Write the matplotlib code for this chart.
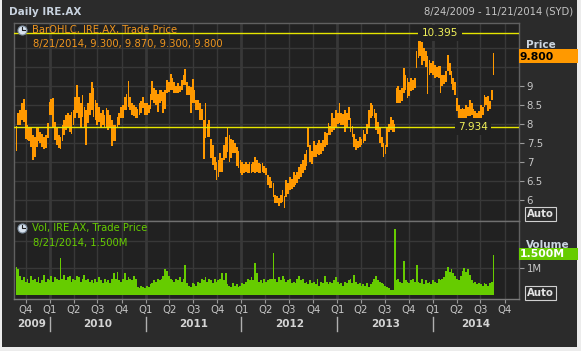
import matplotlib
matplotlib.use('Agg')
import matplotlib.pyplot as plt
import matplotlib.dates as mdates
import matplotlib.transforms as mtransforms
from matplotlib.lines import Line2D
from matplotlib.patches import Rectangle
import numpy as np
import pandas as pd


# weekly bars (week starting FIRST_WEEK, step 7 days)
FIRST_WEEK = '2009-08-24'

WEEK_HIGH = [
    7.95, 8.28, 8.37, 8.54, 8.65, 8.37, 7.97, 7.93, 7.93, 7.71,
    7.67, 7.89, 7.93, 7.80, 7.75, 7.67, 7.71, 8.02, 8.59, 8.65,
    8.68, 8.06, 7.93, 7.71, 7.67, 7.97, 8.10, 8.24, 8.28, 8.24,
    8.32, 8.37, 8.72, 9.02, 8.72, 8.54, 8.76, 8.46, 8.37, 8.54,
    8.81, 9.10, 8.94, 8.63, 8.54, 8.46, 8.28, 8.37, 8.24, 8.41,
    8.37, 8.24, 8.10, 7.97, 7.97, 8.19, 8.30, 8.46, 8.50, 8.72,
    8.80, 9.13, 8.72, 8.54, 8.50, 8.46, 8.40, 8.54, 8.60, 8.72,
    8.54, 8.54, 8.50, 8.80, 9.14, 8.94, 8.90, 8.80, 8.90, 8.90,
    8.85, 8.90, 9.16, 9.10, 9.32, 9.20, 9.10, 9.00, 9.07, 9.00,
    9.16, 9.30, 9.44, 9.10, 9.00, 8.98, 9.18, 8.90, 8.63, 8.63,
    8.54, 8.40, 8.10, 8.54, 8.00, 8.10, 7.60, 7.45, 7.14, 7.00,
    7.05, 7.23, 7.10, 7.45, 7.67, 7.89, 7.71, 7.60, 7.58, 7.50,
    7.40, 7.30, 7.05, 7.00, 6.95, 7.01, 6.95, 7.00, 6.95, 7.00,
    7.14, 7.05, 6.97, 6.95, 6.97, 6.90, 6.85, 6.66, 6.60, 6.50,
    6.44, 6.13, 6.10, 6.05, 6.13, 6.26, 6.10, 6.53, 6.45, 6.61,
    6.55, 6.75, 6.65, 6.75, 6.88, 6.95, 7.05, 7.20, 7.32, 7.89,
    7.45, 7.30, 7.54, 7.45, 7.50, 7.58, 7.50, 7.58, 7.80, 7.75,
    8.02, 7.95, 8.28, 8.15, 8.37, 8.30, 8.54, 8.28, 8.25, 8.37,
    8.30, 8.46, 8.15, 7.95, 7.75, 7.60, 7.55, 7.67, 7.60, 7.84,
    7.75, 8.00, 8.37, 8.54, 8.50, 8.40, 8.28, 8.05, 7.93, 7.65,
    7.49, 7.45, 7.93, 8.00, 8.19, 8.10, 8.00, 8.94, 8.99, 8.90,
    8.95, 9.47, 9.30, 9.21, 9.10, 9.21, 9.15, 9.21, 9.91, 10.37,
    10.20, 10.17, 10.00, 9.91, 9.80, 9.69, 9.60, 9.65, 9.56, 9.50,
    9.52, 9.52, 9.30, 9.30, 9.40, 9.82, 9.60, 9.39, 9.21, 9.10,
    8.68, 8.51, 8.40, 8.42, 8.40, 8.51, 8.45, 8.64, 8.55, 8.40,
    8.35, 8.29, 8.35, 8.51, 8.45, 8.77, 8.70, 8.73, 8.60, 8.90,
]

WEEK_LOW = [
    7.30, 7.97, 7.97, 8.10, 8.06, 7.60, 7.58, 7.54, 7.40, 7.05,
    7.14, 7.40, 7.54, 7.49, 7.40, 7.33, 7.36, 7.62, 8.24, 8.24,
    7.93, 7.58, 7.45, 7.36, 7.33, 7.54, 7.71, 7.84, 7.89, 7.80,
    7.75, 7.97, 8.15, 8.28, 8.15, 7.93, 8.19, 7.93, 7.45, 8.02,
    8.24, 8.37, 8.19, 8.10, 7.97, 8.06, 7.93, 7.97, 7.89, 7.93,
    7.84, 7.89, 7.42, 7.54, 7.54, 7.90, 7.97, 8.15, 8.15, 8.37,
    8.37, 8.46, 8.37, 8.24, 8.20, 8.15, 8.15, 8.24, 8.30, 8.41,
    8.24, 8.24, 8.28, 8.40, 8.63, 8.54, 8.50, 8.32, 8.54, 8.60,
    8.28, 8.40, 8.81, 8.85, 8.90, 8.90, 8.81, 8.81, 8.81, 8.85,
    8.90, 9.03, 9.03, 8.76, 8.76, 8.28, 8.54, 8.54, 8.37, 8.37,
    8.10, 8.10, 7.07, 7.62, 7.67, 7.67, 7.10, 6.92, 6.80, 6.53,
    6.60, 6.75, 6.75, 7.05, 7.10, 7.27, 7.01, 7.10, 7.23, 7.23,
    6.90, 6.83, 6.70, 6.66, 6.70, 6.75, 6.70, 6.72, 6.70, 6.75,
    6.70, 6.75, 6.72, 6.70, 6.75, 6.70, 6.66, 6.40, 6.31, 6.31,
    6.09, 5.91, 5.91, 5.85, 5.91, 5.95, 5.78, 6.09, 6.15, 6.26,
    6.30, 6.35, 6.40, 6.45, 6.55, 6.60, 6.70, 6.79, 6.90, 7.40,
    7.00, 6.96, 7.14, 7.14, 7.20, 7.18, 7.20, 7.30, 7.40, 7.45,
    7.71, 7.71, 7.80, 7.85, 7.93, 8.00, 8.02, 7.97, 7.97, 7.80,
    7.90, 8.10, 7.80, 7.67, 7.40, 7.32, 7.36, 7.40, 7.45, 7.49,
    7.55, 7.75, 7.93, 8.15, 8.20, 8.15, 7.84, 7.75, 7.49, 7.40,
    7.14, 7.20, 7.40, 7.80, 7.85, 7.80, 7.80, 8.54, 8.55, 8.55,
    8.60, 8.82, 8.90, 8.68, 8.75, 8.86, 8.90, 8.95, 9.47, 9.74,
    9.80, 9.56, 9.65, 9.50, 8.80, 9.30, 9.35, 9.30, 9.21, 9.25,
    9.21, 8.82, 9.00, 9.04, 9.10, 9.39, 9.30, 9.04, 8.90, 8.77,
    8.33, 8.03, 8.05, 8.11, 8.15, 8.16, 8.20, 8.20, 8.25, 8.10,
    8.05, 8.03, 8.10, 8.16, 8.25, 8.46, 8.50, 8.33, 8.40, 8.64,
]

# volume in millions
WEEK_VOL = [
    1.05, 0.95, 0.70, 0.55, 0.65, 0.50, 0.60, 0.45, 0.70, 0.55,
    0.60, 0.50, 0.65, 0.45, 0.55, 0.75, 0.50, 0.60, 0.55, 0.70,
    0.50, 0.65, 0.60, 0.55, 1.38, 0.60, 0.75, 0.55, 0.65, 0.70,
    0.50, 0.60, 0.55, 0.70, 0.65, 0.50, 0.60, 0.75, 0.55, 0.60,
    0.50, 0.55, 0.45, 0.60, 0.50, 0.65, 0.55, 0.45, 0.60, 0.50,
    0.55, 0.45, 0.60, 0.80, 0.60, 0.85, 0.55, 0.50, 0.60, 0.80,
    0.55, 0.65, 0.60, 0.55, 0.70, 0.60, 0.30, 0.25, 0.35, 0.30,
    0.25, 0.35, 0.30, 0.40, 0.45, 0.55, 0.50, 0.60, 0.55, 0.60,
    0.70, 0.95, 0.90, 0.70, 0.60, 0.55, 0.50, 0.60, 0.55, 0.65,
    0.50, 0.60, 1.10, 0.45, 0.35, 0.30, 0.45, 0.40, 0.35, 0.50,
    0.45, 0.60, 0.55, 0.65, 0.50, 0.60, 0.55, 0.45, 0.60, 0.50,
    0.55, 0.60, 0.80, 0.55, 0.80, 0.40, 0.35, 0.30, 0.45, 0.35,
    0.40, 0.30, 0.35, 0.45, 0.40, 0.50, 0.60, 0.55, 0.65, 0.55,
    1.17, 0.80, 0.50, 0.55, 0.45, 0.60, 0.50, 0.55, 0.60, 0.60,
    1.54, 0.60, 0.50, 0.65, 0.55, 0.70, 0.60, 0.50, 0.55, 0.60,
    0.45, 0.50, 0.45, 0.60, 0.70, 0.55, 0.60, 0.45, 0.50, 0.40,
    0.55, 0.45, 0.50, 0.40, 0.60, 0.35, 0.50, 0.45, 0.70, 0.50,
    0.40, 0.50, 0.45, 0.55, 0.65, 0.50, 0.40, 0.45, 0.35, 0.50,
    0.45, 0.55, 0.60, 0.45, 0.75, 0.50, 0.40, 0.45, 0.35, 0.40,
    0.35, 0.45, 0.30, 0.40, 0.50, 0.60, 0.70, 0.55, 0.50, 0.45,
    0.40, 0.35, 0.30, 0.25, 0.20, 0.20, 2.44, 0.55, 0.60, 0.50,
    0.45, 1.26, 0.55, 0.50, 0.45, 0.55, 0.60, 0.50, 1.11, 0.50,
    0.45, 0.60, 0.40, 0.55, 0.45, 0.50, 0.40, 0.55, 0.50, 0.45,
    0.60, 0.55, 0.60, 0.65, 0.90, 1.05, 0.85, 0.95, 0.80, 0.70,
    0.60, 0.55, 0.70, 0.90, 1.00, 0.85, 0.95, 0.75, 0.55, 0.45,
    0.50, 0.40, 0.45, 0.40, 0.35, 0.45, 0.40, 0.35, 0.45, 0.50,
]

# last trading day, as given in the legend
LAST_DAY = '2014-08-21'
LAST_OPEN, LAST_HIGH, LAST_LOW, LAST_CLOSE = 9.300, 9.870, 9.300, 9.800
LAST_VOL = 1.500

RANGE_HIGH = 10.395
RANGE_LOW = 7.934
PRICE_TICKS = [6, 6.5, 7, 7.5, 8, 8.5, 9]
PRICE_GRID = [6, 6.5, 7, 7.5, 8, 8.5, 9, 9.5, 10]

assert len(WEEK_HIGH) == len(WEEK_LOW) == len(WEEK_VOL), (len(WEEK_HIGH), len(WEEK_LOW), len(WEEK_VOL))

W, H = 581, 351
BG = '#2b2b2b'
PLOT_BG = '#212121'
GRID = '#383838'
FRAME = '#606060'
ORANGE = '#ff9900'
GREEN = '#66cc00'
YELLOW = '#e6e600'
TEXT = '#c8c8c8'


def fx(x):
    return x / W


def fy(y):
    return 1 - y / H


fig = plt.figure(figsize=(W / 100, H / 100), dpi=100)
fig.patch.set_facecolor('#ececec')
fig.add_artist(Rectangle((fx(2), fy(347)), fx(577) - fx(2), fy(-2) - fy(347),
                         transform=fig.transFigure, facecolor=BG, edgecolor='none', zorder=-10))

ax_p = fig.add_axes([fx(14), fy(221), fx(519) - fx(14), fy(23) - fy(221)])
ax_v = fig.add_axes([fx(14), fy(299), fx(519) - fx(14), fy(221) - fy(299)], sharex=ax_p)

weeks = pd.date_range(FIRST_WEEK, periods=len(WEEK_HIGH), freq='7D')
centers = weeks + pd.Timedelta(days=2.5)
hi = np.array(WEEK_HIGH)
lo = np.array(WEEK_LOW)
vol = np.array(WEEK_VOL)
last = pd.Timestamp(LAST_DAY)

for ax in (ax_p, ax_v):
    ax.set_facecolor(PLOT_BG)
    for s in ax.spines.values():
        s.set_color(FRAME)
        s.set_linewidth(1)

xmin, xmax = pd.Timestamp('2009-08-17'), pd.Timestamp('2014-11-25')
ax_p.set_xlim(xmin, xmax)

quarters = pd.date_range('2009-10-01', '2014-10-01', freq='QS')
for ax in (ax_p, ax_v):
    for q in quarters:
        ax.axvline(q, color=GRID, lw=2.0 if q.month == 1 else 1.0, zorder=0)

# price pane
for v in PRICE_GRID:
    ax_p.axhline(v, color=GRID, lw=1, zorder=0)
ax_p.bar(centers, hi - lo, bottom=lo, width=6.6, color=ORANGE, linewidth=0, zorder=2)
ax_p.bar([last], [LAST_HIGH - LAST_LOW], bottom=[LAST_LOW], width=3, color=ORANGE, linewidth=0, zorder=2)
ax_p.set_ylim(9 - (221 - 86) / 38, 9 + (86 - 23) / 38)

ax_p.axhline(RANGE_HIGH, color=YELLOW, lw=1, zorder=3)
ax_p.axhline(RANGE_LOW, color=YELLOW, lw=1, zorder=3)
ax_p.text(0.8436, RANGE_HIGH, f'{RANGE_HIGH:.3f}', transform=ax_p.get_yaxis_transform(),
          ha='center', va='center', color='#f2f25a', fontsize=7.5, zorder=4,
          bbox=dict(facecolor=PLOT_BG, edgecolor='none', pad=2.5))
ax_p.text(0.909, RANGE_LOW, f'{RANGE_LOW:.3f}', transform=ax_p.get_yaxis_transform(),
          ha='center', va='center', color='#f2f25a', fontsize=7.5, zorder=4,
          bbox=dict(facecolor=PLOT_BG, edgecolor='none', pad=2.5))

ax_p.yaxis.tick_right()
ax_p.set_yticks(PRICE_TICKS)
ax_p.set_yticklabels([f'{v:g}' for v in PRICE_TICKS])
ax_p.tick_params(axis='y', length=3.5, width=0.8, color='#9a9a9a', labelsize=7.3, labelcolor=TEXT, pad=2)
ax_p.tick_params(axis='x', bottom=False, labelbottom=False)

# volume pane
ax_v.axhline(1, color=GRID, lw=1, zorder=0)
ax_v.axhline(2, color=GRID, lw=1, zorder=0)
ax_v.bar(centers, vol, width=7.0, color=GREEN, linewidth=0, zorder=2)
ax_v.bar([last], [LAST_VOL], width=3, color=GREEN, linewidth=0, zorder=2)
ax_v.set_ylim(-4 / 27, 74 / 27)
ax_v.yaxis.tick_right()
ax_v.set_yticks([1])
ax_v.set_yticklabels(['1M'])
ax_v.tick_params(axis='y', length=3.5, width=0.8, color='#9a9a9a', labelsize=7.3, labelcolor=TEXT, pad=2)
ax_v.set_xticks(quarters)
ax_v.tick_params(axis='x', length=3, width=0.8, color='#9a9a9a', labelbottom=False)
ax_v.spines['top'].set_color('#707070')
ax_v.spines['bottom'].set_color('#7a7a7a')

# x labels: quarters and years
blend = mtransforms.blended_transform_factory(ax_v.transData, fig.transFigure)
for q in quarters:
    fig.text(mdates.date2num(q), fy(310), f'Q{q.quarter}', transform=blend,
             ha='center', va='center', color=TEXT, fontsize=7.3)
for yr in range(2009, 2015):
    a = max(pd.Timestamp(f'{yr}-01-01'), xmin)
    b = min(pd.Timestamp(f'{yr + 1}-01-01'), xmax)
    mid = mdates.date2num(a) + (mdates.date2num(b) - mdates.date2num(a)) / 2
    fig.text(mid, fy(324), str(yr), transform=blend, ha='center', va='center',
             color='#d4d4d4', fontsize=7.5, fontweight='bold')
    if yr > 2009:
        xs = mdates.date2num(pd.Timestamp(f'{yr}-01-01'))
        fig.add_artist(Line2D([xs, xs], [fy(317), fy(331)], transform=blend, color='#b0b0b0', lw=1))

# titles and legends
fig.text(fx(9), fy(12), 'Daily IRE.AX', ha='left', va='center', color='#c8d2de',
         fontsize=7.5, fontweight='bold')
fig.text(fx(573), fy(12), '8/24/2009 - 11/21/2014 (SYD)', ha='right', va='center',
         color='#c4c4c4', fontsize=7.2)


def clock(x, y):
    fig.add_artist(Line2D([fx(x)], [fy(y)], marker='o', markersize=6.5, markerfacecolor='#d8e2ee',
                          markeredgecolor='#8090a0', markeredgewidth=0.8, transform=fig.transFigure))
    fig.add_artist(Line2D([fx(x), fx(x), fx(x + 2.5)], [fy(y - 3), fy(y), fy(y)], color='#202020',
                          lw=0.8, transform=fig.transFigure))


clock(22, 30)
fig.text(fx(32), fy(30), 'BarOHLC, IRE.AX, Trade Price', ha='left', va='center',
         color='#f0961e', fontsize=7.2)
fig.text(fx(33), fy(44), f'8/21/2014, {LAST_OPEN:.3f}, {LAST_HIGH:.3f}, {LAST_LOW:.3f}, {LAST_CLOSE:.3f}',
         ha='left', va='center', color='#f0961e', fontsize=7.2)
clock(22, 228)
fig.text(fx(32), fy(228), 'Vol, IRE.AX, Trade Price', ha='left', va='center',
         color=GREEN, fontsize=7.2)
fig.text(fx(33), fy(243), f'8/21/2014, {LAST_VOL:.3f}M', ha='left', va='center',
         color=GREEN, fontsize=7.2)

# right-hand labels
fig.text(fx(526), fy(45), 'Price', ha='left', va='center', color='#ccd6e0',
         fontsize=7.5, fontweight='bold')
fig.add_artist(Rectangle((fx(519), fy(63)), fx(578) - fx(519), fy(49.5) - fy(63),
                         transform=fig.transFigure, facecolor=ORANGE, edgecolor='none'))
fig.text(fx(520), fy(56.5), f'{LAST_CLOSE:.3f}', ha='left', va='center', color='black',
         fontsize=7.8, fontweight='bold')

fig.text(fx(526), fy(245), 'Volume', ha='left', va='center', color='#ccd6e0',
         fontsize=7.5, fontweight='bold')
fig.add_artist(Rectangle((fx(519), fy(260)), fx(578) - fx(519), fy(248) - fy(260),
                         transform=fig.transFigure, facecolor=GREEN, edgecolor='none'))
fig.text(fx(520), fy(254), f'{LAST_VOL:.3f}M', ha='left', va='center', color='white',
         fontsize=7.8, fontweight='bold')

for yb in (214, 293):
    fig.text(fx(540.5), fy(yb), 'Auto', ha='center', va='center', color='#e4e4e4',
             fontsize=7.3, fontweight='bold',
             bbox=dict(facecolor='none', edgecolor='#d0d0d0', pad=1.2, lw=0.8))

fig.savefig('out.png', dpi=100, facecolor=fig.get_facecolor())
